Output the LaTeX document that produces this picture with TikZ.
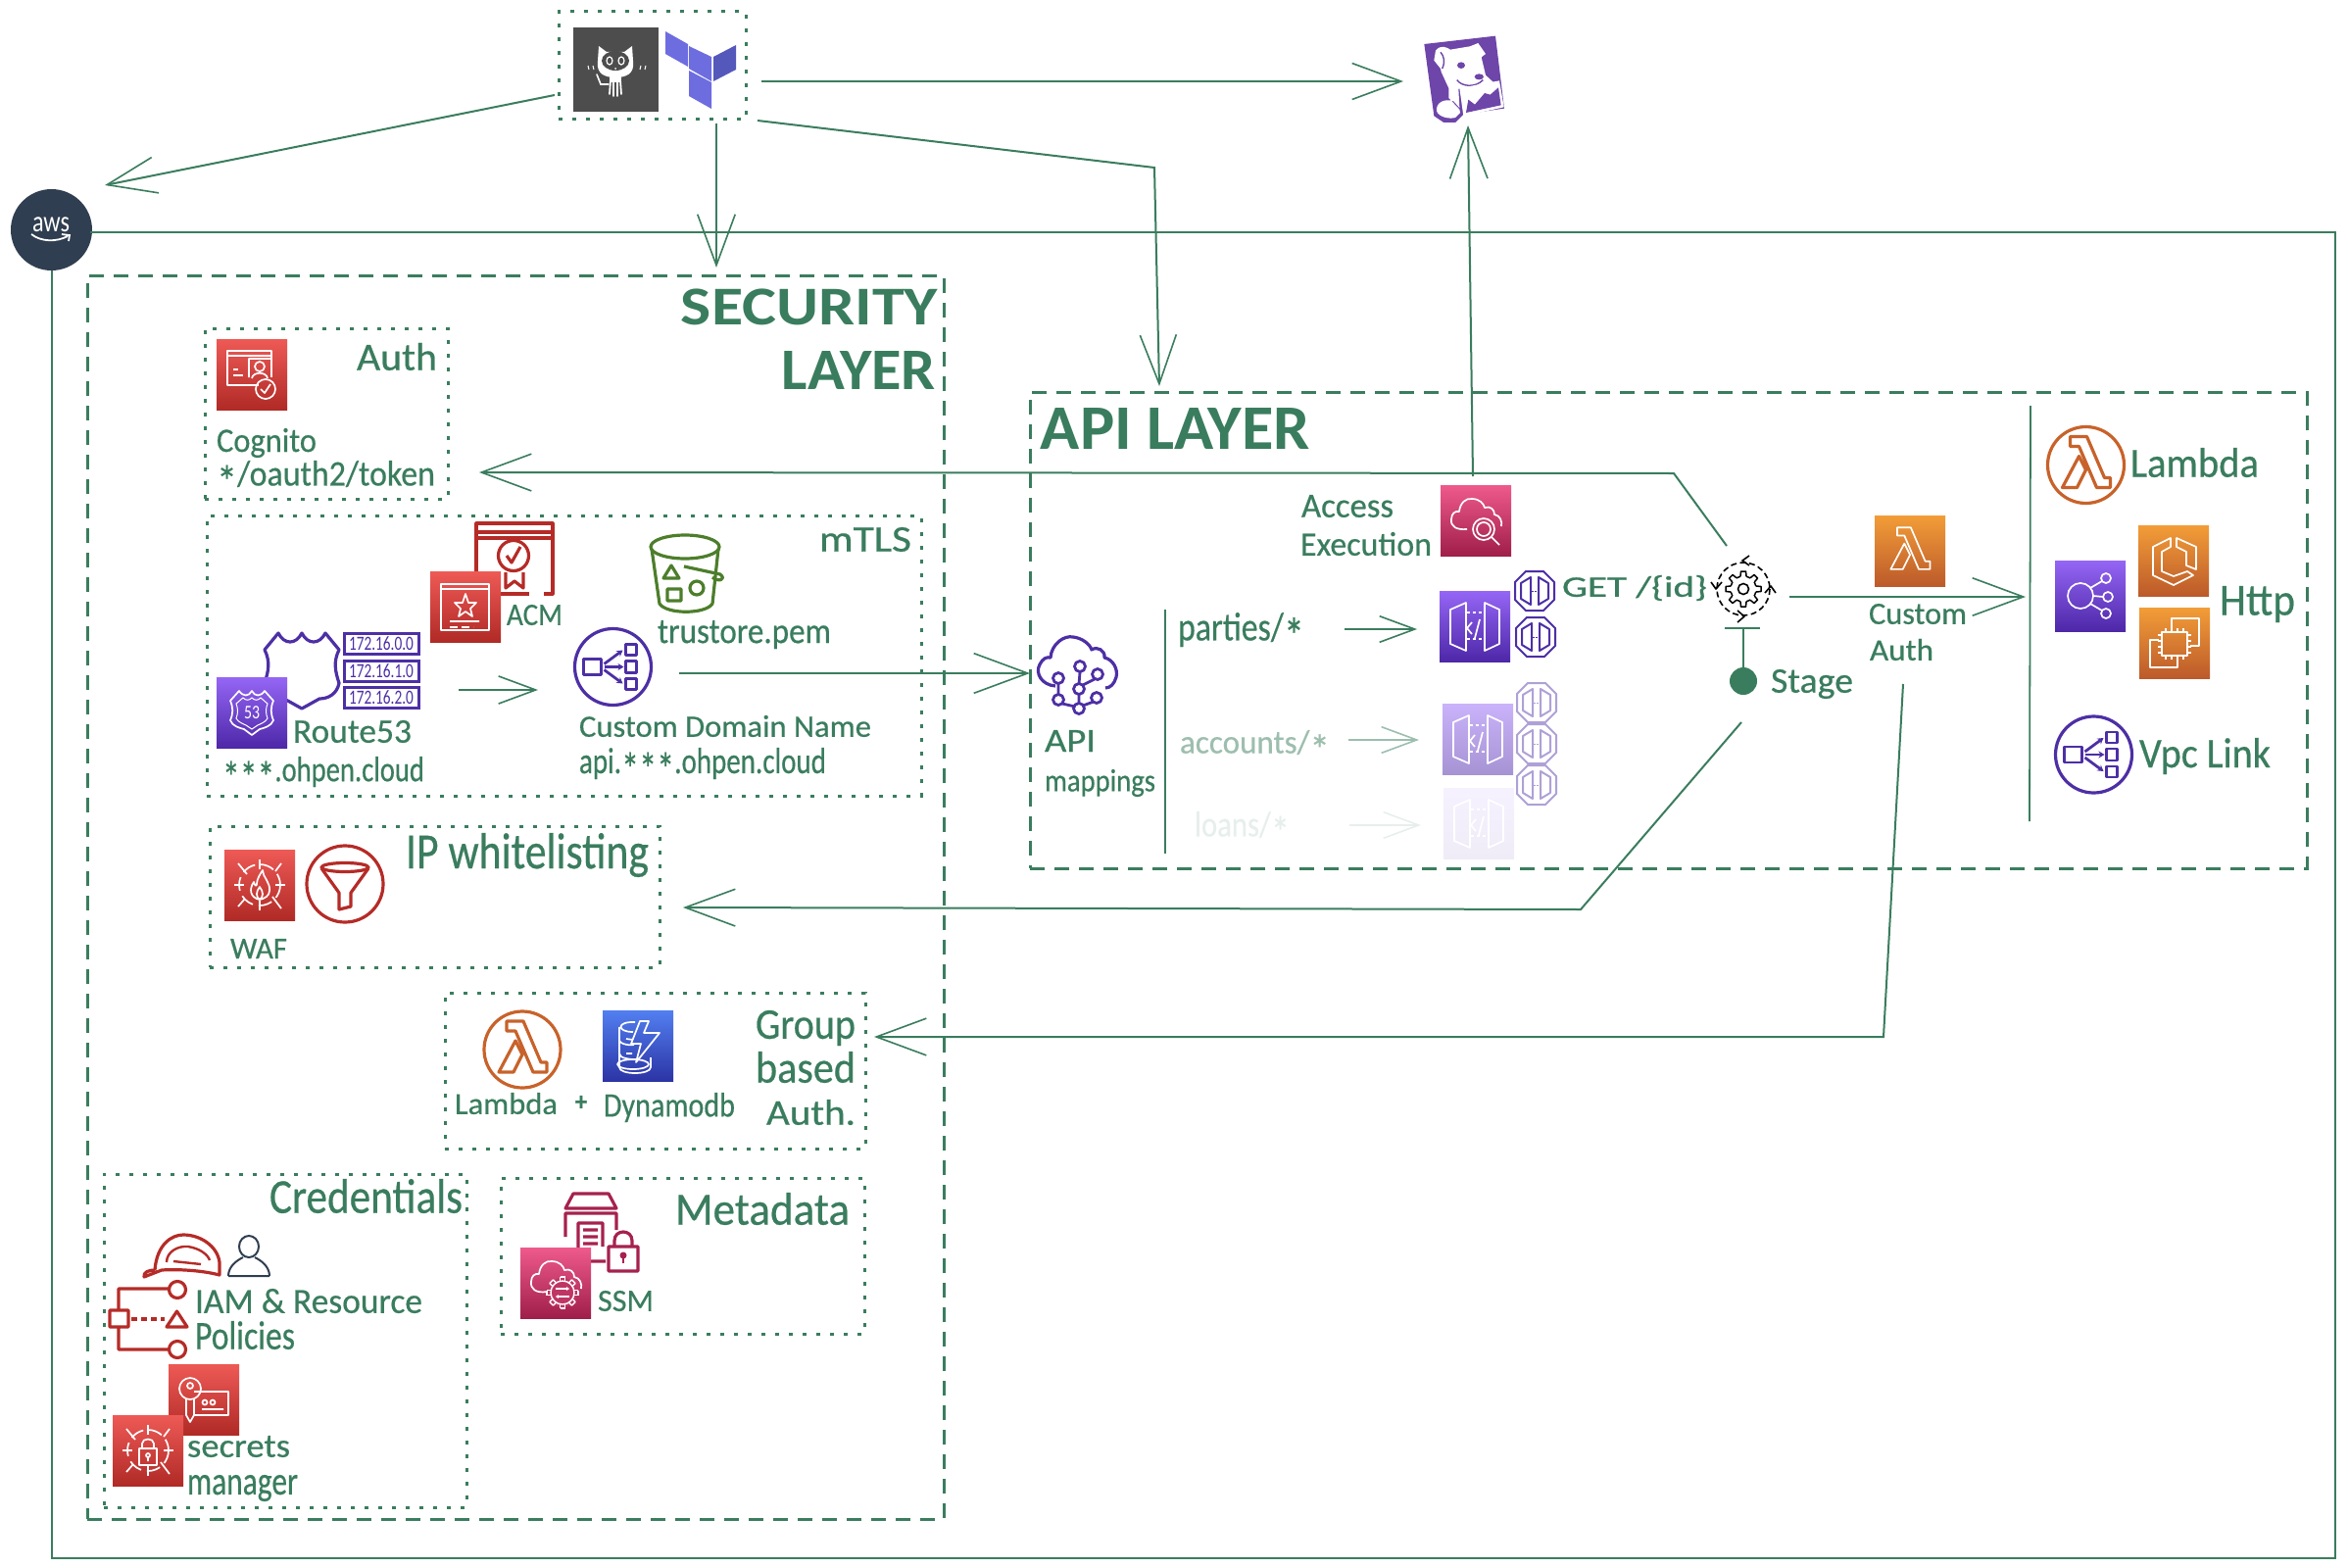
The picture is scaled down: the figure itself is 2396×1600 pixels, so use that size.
\documentclass[tikz,border=0pt]{standalone}
\usepackage{fontspec}
\usepackage{graphicx}
\setmainfont{Carlito}
\newfontfamily\handfont{Carlito}[FakeBold=0.5]
\newcommand{\astr}{\smash{\raisebox{-0.32em}{\scalebox{1.25}{*}}}}
\usetikzlibrary{arrows.meta}
\definecolor{tgreen}{HTML}{3A7D5E}
\definecolor{icred}{HTML}{B52B27}
\definecolor{redd}{HTML}{B02A26}
\definecolor{redl}{HTML}{EE5A56}
\definecolor{icpur}{HTML}{4D2FA5}
\definecolor{purd}{HTML}{4D27A8}
\definecolor{purl}{HTML}{9566F5}
\definecolor{orad}{HTML}{BC5A2A}
\definecolor{oral}{HTML}{F29D38}
\definecolor{icora}{HTML}{C8622A}
\definecolor{icgrn}{HTML}{4D7E2B}
\definecolor{crid}{HTML}{A01E4A}
\definecolor{cril}{HTML}{EE5A8C}
\definecolor{iccri}{HTML}{A6214F}
\definecolor{blud}{HTML}{2C34A5}
\definecolor{blul}{HTML}{527FF0}
\definecolor{awsnavy}{HTML}{2F3E50}
\definecolor{ghdark}{HTML}{4D4D4D}
\definecolor{tfa}{HTML}{6D6DE0}
\definecolor{tfb}{HTML}{5558BB}
\definecolor{ddog}{HTML}{6E45A8}
\tikzset{
  conn/.style={draw=tgreen,line width=2pt},
  tipped/.style={conn,-{Straight Barb[length=#1,width=0.74*#1,line width=1.6pt]}},
  thinconn/.style={draw=tgreen,line width=1.8pt},
  outerbox/.style={draw=tgreen,line width=3pt,dash pattern=on 15pt off 10pt,inner sep=0pt},
  innerbox/.style={draw=tgreen,line width=3pt,dash pattern=on 4pt off 10pt,inner sep=0pt},
  wl/.style={draw=white,line width=1.7pt,line join=round},
  ol/.style={draw=#1,line width=3.2pt,line join=round},
  sqicon/.style={shade,shading=axis,shading angle=-45,minimum size=72pt,inner sep=0pt},
}
% label fitted to a measured box: [opts]{name}{x0}{y0}{x1}{y1}{text}
\newcommand{\lbl}[7][]{\node[inner sep=0pt,text=tgreen,#1] (#2) at ({(#3+#5)/2},{(#4+#6)/2})
  {\resizebox*{\dimexpr #5pt-#3pt\relax}{\dimexpr #6pt-#4pt\relax}{\fontsize{30}{32}\selectfont\handfont #7}};}
\newcommand{\ttl}[6]{\node[inner sep=0pt,text=tgreen] (#1) at ({(#2+#4)/2},{(#3+#5)/2})
  {\resizebox*{\dimexpr #4pt-#2pt\relax}{\dimexpr #5pt-#3pt\relax}{\fontsize{30}{32}\selectfont\bfseries #6}};}
\newcommand{\bx}[6]{\node[#2,minimum width={(#5-#3)*1pt},minimum height={(#6-#4)*1pt}] (#1) at ({(#3+#5)/2},{(#4+#6)/2}) {};}
\newcommand{\sq}[5]{\node[sqicon,bottom color=#4,top color=#5] (#1) at (#2+36,#3+36) {};}
\newcommand{\lamglyph}[1]{\draw[#1] (-16,-29)--(1,-29)--(19,13)--(25,13)--(25,23)--(11,23)--(-7,-19)--(-16,-19)--cycle
  (-7,-9)--(-24,23)--(-9,23)--(0,5)--cycle;}
\newcommand{\lbglyph}[1]{\draw[ol=#1,line width=2.8pt] (-30,-8) rectangle (-12,8) (13,-23) rectangle (24,-12) (13,-6) rectangle (24,6) (13,12) rectangle (24,23);
  \draw[ol=#1,line width=2.8pt,-{Stealth[length=6pt,width=7pt]}] (-9,-3)--(10,-17);
  \draw[ol=#1,line width=2.8pt,-{Stealth[length=6pt,width=7pt]}] (-9,0)--(11,0);
  \draw[ol=#1,line width=2.8pt,-{Stealth[length=6pt,width=7pt]}] (-9,3)--(10,17);}
\newcommand{\gwglyph}{\draw[wl] (-25,-17)--(-9,-24)--(-9,25)--(-25,18)--cycle (10,-24)--(25,-17)--(25,18)--(10,25)--cycle;
  \draw[wl,dash pattern=on 3pt off 3pt] (-8,-14)--(10,-14) (-8,13)--(10,13);
  \draw[wl] (-3,-4)--(-8,2)--(-3,8) (5,-7)--(0,12);}
\newcommand{\hexglyph}[1]{\draw[draw=#1,line width=2pt,line join=round] (-9,-20)--(9,-20)--(20,-9)--(20,9)--(9,20)--(-9,20)--(-20,9)--(-20,-9)--cycle
  (-14,-8)--(-4,-14)--(-4,14)--(-14,8)--cycle (4,-14)--(14,-8)--(14,8)--(4,14)--cycle;
  \draw[draw=#1,line width=1pt,dash pattern=on 1.5pt off 1.5pt] (-3,0)--(3,0);}
\newcommand{\targetglyph}{\draw[wl] (-22,-22)--(-13,-11) (22,24)--(13,12) (22,-22)--(16,-14) (-22,22)--(-15,14);
  \draw[wl,dash pattern=on 14pt off 6pt] (0,0) circle[radius=21];
  \draw[wl] (0,-26)--(0,-16) (0,26)--(0,16) (-26,0)--(-16,0) (26,0)--(16,0);}
\newcommand{\cloudglyph}[1]{\draw[#1] (-9,9) .. controls (-20,11) and (-26,6) .. (-25,-1) .. controls (-25,-7) and (-21,-10) .. (-17,-9)
  .. controls (-16,-18) and (-10,-23) .. (-4,-22) .. controls (4,-22) and (8,-17) .. (9,-13) .. controls (15,-15) and (19,-11) .. (19,-6) .. controls (25,-5) and (27,1) .. (26,6);}
\begin{document}
\begin{tikzpicture}[x=1pt,y=-1pt]
\useasboundingbox (0,0) rectangle (2396,1600);
% ---------- containers
\bx{topbox}{innerbox}{570}{12}{761}{122}
\bx{secbox}{outerbox}{89}{281}{963}{1550}
\bx{apibox}{outerbox}{1051}{400}{2354}{886}
\bx{authbox}{innerbox}{209}{335}{457}{509}
\bx{mtlsbox}{innerbox}{211}{526}{940}{812}
\bx{wafbox}{innerbox}{214}{843}{673}{987}
\bx{groupbox}{innerbox}{454}{1013}{883}{1172}
\bx{credbox}{innerbox}{106}{1198}{476}{1538}
\bx{metabox}{innerbox}{511}{1202}{882}{1361}
% ---------- aws logo
\node[circle,fill=awsnavy,minimum size=83pt,inner sep=0pt] (aws) at (52.5,234.5) {};
\node[inner sep=0pt,text=white] (awstxt) at (52,229.5) {\resizebox*{38pt}{15pt}{\fontsize{30}{32}\selectfont aws}};
\draw[white,line width=1.8pt] (32,239) .. controls (42,247) and (58,247) .. (69,241) (63,239)--(71,240)--(70,246);
% ---------- connector end points
\coordinate (ghL) at (566,97);   \coordinate (awsTip) at (107,189);
\coordinate (ghD) at (731,126);  \coordinate (secTip) at (731,273);
\coordinate (ghR) at (777,83);   \coordinate (ddTip) at (1432,83);
\coordinate (ghB) at (773,123);  \coordinate (apiC) at (1178,171); \coordinate (apiTip) at (1183,394);
\coordinate (af0) at (92,237);   \coordinate (af1) at (2383,237); \coordinate (af2) at (2383,1590); \coordinate (af3) at (52.5,1590);
\coordinate (ceS) at (1503,486); \coordinate (ceT) at (1498,128);
\coordinate (gA) at (1762,557);  \coordinate (gAc) at (1708,483); \coordinate (authTip) at (489,482);
\coordinate (sB) at (1777,737);  \coordinate (sBc) at (1613,928); \coordinate (wafTip) at (697,926);
\coordinate (caB) at (1942,698); \coordinate (caC) at (1922,1058); \coordinate (grpTip) at (892,1058);
\coordinate (cdR) at (693,687);  \coordinate (mapTip) at (1051,687);
\coordinate (r5R) at (468,704);  \coordinate (cdL) at (549,704);
\coordinate (gR) at (1826,609);  \coordinate (intTip) at (2067,609);
\coordinate (pa) at (1372,642);  \coordinate (paT) at (1446,642);
\coordinate (ac) at (1376,755);  \coordinate (acT) at (1448,755);
\coordinate (lo) at (1377,842);  \coordinate (loT) at (1450,842);
\coordinate (v1a) at (1189,622); \coordinate (v1b) at (1189,871);
\coordinate (v2a) at (2072,414); \coordinate (v2b) at (2071,838);
\coordinate (tL) at (1760,641);  \coordinate (tR) at (1796,641); \coordinate (tM) at (1779,641);
% ---------- connectors
\draw[conn] (af0)--(af1)--(af2)--(af3)--(aws.south);
\draw[tipped=50pt] (ghL)--(awsTip);
\draw[tipped=52pt] (ghD)--(secTip);
\draw[tipped=50pt] (ghR)--(ddTip);
\draw[tipped=50pt] (ghB)--(apiC)--(apiTip);
\draw[tipped=52pt] (ceS)--(ceT);
\draw[tipped=51pt] (gA)--(gAc)--(authTip);
\draw[tipped=51pt] (sB)--(sBc)--(wafTip);
\draw[tipped=51pt] (caB)--(caC)--(grpTip);
\draw[tipped=55pt] (cdR)--(mapTip);
\draw[tipped=38pt] (r5R)--(cdL);
\draw[tipped=52pt] (gR)--(intTip);
\draw[tipped=36pt] (pa)--(paT);
\draw[tipped=36pt,draw=tgreen!50!white] (ac)--(acT);
\draw[tipped=36pt,draw=tgreen!12!white] (lo)--(loT);
\draw[thinconn] (v1a)--(v1b);
\draw[thinconn] (v2a)--(v2b);
\draw[thinconn] (tL)--(tR);
% ---------- github + terraform
\node[fill=ghdark,minimum width=87pt,minimum height=86pt,inner sep=0pt] (gh) at (628.5,71) {};
\begin{scope}[shift={(628,70)}]
  \fill[white] (-17,-23)--(-9,-17)--(9,-17)--(17,-23)--(18,-8) .. controls (20,6) and (10,9) .. (0,9) .. controls (-10,9) and (-20,6) .. (-18,-8)--cycle;
  \fill[ghdark] (0,-8) ellipse[x radius=14,y radius=10];
  \draw[white,line width=1.2pt] (-6,-8) ellipse[x radius=3,y radius=4] (6,-8) ellipse[x radius=3,y radius=4];
  \fill[white] (0,0) circle[radius=1];
  \fill[white] (-6,7) rectangle (6,14);
  \draw[white,line width=1.8pt,line cap=round] (-5,12)--(-6,26) (-2,12)--(-2,28) (2,12)--(2,28) (5,12)--(6,26);
  \draw[white,line width=1.6pt,line cap=round] (-19,6)--(-15,16)--(-7,16);
  \draw[white,line width=1pt] (-28,-3)--(-27,1) (-23,-3)--(-22,1) (26,-3)--(25,1) (31,-3)--(30,1);
\end{scope}
\fill[tfa] (679,32)--(702,45)--(702,68)--(679,55)--cycle (703,47)--(726,58)--(726,83)--(703,70)--cycle (703,72)--(726,84)--(726,111)--(703,98)--cycle;
\fill[tfb] (728,58)--(751,46)--(751,71)--(728,83)--cycle;
\node[inner sep=0pt,minimum size=2pt] (tf) at (715,70) {};
% ---------- datadog
\begin{scope}[shift={(1430,20)},x=0.3333pt,y=-0.3333pt]
  \fill[ddog] (70,75)--(288,50)--(315,272)--(190,290)--(165,315)--(130,315)--(100,295)--cycle;
  \fill[white] (105,95) .. controls (120,75) and (140,85) .. (150,92)--(210,82)--(235,72)--(258,105)--(245,115)--(258,170)--(285,195)--(175,212)--(178,270)--(160,250) .. controls (130,240) and (105,255) .. (108,280) .. controls (115,300) and (150,305) .. (165,300)--(180,285)--(178,275)--(145,240)--(145,210)--(122,160)--(120,150)--(100,125)--cycle;
  \fill[ddog] (183,140) ellipse[x radius=12,y radius=10] (238,175) ellipse[x radius=14,y radius=9];
  \draw[ddog,line width=1.4pt] (170,185) .. controls (185,205) and (225,210) .. (250,185) (120,100) .. controls (130,110) and (135,130) .. (125,150);
  \fill[white] (178,210)--(300,187)--(314,268)--(190,295)--cycle;
  \fill[ddog] (198,285)--(305,262)--(297,208)--(272,230)--(255,225)--(225,260)--(205,245)--cycle;
\end{scope}
\node[inner sep=0pt,minimum size=2pt] (dd) at (1495,80) {};
% ---------- cognito
\sq{cognito}{221}{346}{redd}{redl}
\begin{scope}[shift={(257,382)}]
  \draw[wl] (7,11)--(-25,11)--(-25,-24)--(20,-24)--(20,3) (-25,-19)--(20,-19) (-19,-5)--(-14,-5) (-19,1)--(-9,1);
  \draw[wl] (-3,3)--(-3,-16)--(20,-16) (8,-8) circle[radius=5] (0,4) .. controls (1,-3) and (15,-3) .. (16,4);
  \draw[wl] (14,15) circle[radius=10] (9,15)--(13,19)--(19,10);
\end{scope}
% ---------- ACM
\draw[ol=icred] (486,583)--(486,534)--(564,534)--(564,606)--(555,606) (540,606)--(511,606) (486,543)--(564,543) (486,549)--(564,549);
\draw[ol=icred] (524,567) circle[radius=15.5] (516,584)--(516,600)--(525,593)--(534,600)--(534,584) (517,567)--(522,574)--(531,558);
\sq{acm}{439}{583}{redd}{redl}
\begin{scope}[shift={(475,619)}]
  \draw[wl] (-25,-23) rectangle (24,24) (-25,-18)--(24,-18);
  \draw[wl] (0,-13)--(3,-4)--(11,-4)--(5,2)--(7,10)--(0,5)--(-7,10)--(-5,2)--(-11,-4)--(-3,-4)--cycle (-16,15)--(14,15);
  \draw[wl,dash pattern=on 8pt off 4pt] (-16,21)--(8,21);
\end{scope}
% ---------- S3
\draw[ol=icgrn] (699,558) ellipse[x radius=35,y radius=12];
\draw[ol=icgrn] (665,560)--(673,616) .. controls (680,627) and (720,627) .. (727,616)--(733,560);
\draw[ol=icgrn] (685,577)--(693,590)--(677,590)--cycle (681,601) rectangle (695,613) (711,600) circle[radius=7];
\draw[ol=icgrn] (698,578)--(735,586) .. controls (742,592) and (732,594) .. (727,589);
% ---------- route53
\draw[ol=icpur] (284,646) .. controls (290,658) and (302,658) .. (308,646) .. controls (314,658) and (326,658) .. (332,646)--(346,663) .. controls (340,675) and (342,685) .. (346,697) .. controls (344,708) and (335,713) .. (326,713)--(308,723)--(290,713) .. controls (281,713) and (272,708) .. (270,697) .. controls (274,685) and (276,675) .. (270,663)--cycle;
\foreach \yy/\tt/\nn in {646/172.16.0.0/ipa,673.5/172.16.1.0/ipb,701/172.16.2.0/ipc}{
  \node[draw=icpur,line width=3pt,minimum width=76pt,minimum height=21pt,inner sep=0pt] (\nn) at (389,\yy+11) {};
  \node[inner sep=0pt,text=icpur] (\nn t) at (389,\yy+11) {\resizebox*{66pt}{14pt}{\fontsize{30}{32}\selectfont \tt}};
}
\sq{r53}{221}{691}{purd}{purl}
\begin{scope}[shift={(257,727)}]
  \draw[wl] (-13,-22) .. controls (-9,-16) and (-3,-16) .. (0,-22) .. controls (3,-16) and (9,-16) .. (13,-22)--(22,-12) .. controls (19,-5) and (19,1) .. (22,8) .. controls (20,14) and (12,16) .. (8,17)--(0,23)--(-8,17) .. controls (-12,16) and (-20,14) .. (-22,8) .. controls (-19,1) and (-19,-5) .. (-22,-12)--cycle;
  \draw[white,line width=1pt] (-9,-15) .. controls (-6,-12) and (-3,-12) .. (0,-15) .. controls (3,-12) and (6,-12) .. (9,-15)--(16,-9) .. controls (14,-4) and (14,1) .. (16,6) .. controls (14,10) and (8,12) .. (6,13)--(0,17)--(-6,13) .. controls (-8,12) and (-14,10) .. (-16,6) .. controls (-14,1) and (-14,-4) .. (-16,-9)--cycle;
  \node[inner sep=0pt,text=white] (r53num) at (0,0) {\resizebox*{16pt}{13pt}{\fontsize{30}{32}\selectfont 53}};
\end{scope}
% ---------- custom domain name
\node[circle,draw=icpur,line width=3.2pt,minimum size=78pt,inner sep=0pt] (cdn) at (625.5,680.5) {};
\begin{scope}[shift={(625.5,680.5)}] \lbglyph{icpur} \end{scope}
% ---------- WAF
\sq{waf}{229}{867}{redd}{redl}
\begin{scope}[shift={(265,903)}]
  \targetglyph
  \draw[wl] (0,15) .. controls (-10,13) and (-11,4) .. (-6,-3) .. controls (-5,1) and (-3,2) .. (-3,-1) .. controls (-3,-6) and (1,-12) .. (3,-15) .. controls (3,-8) and (11,-3) .. (10,6) .. controls (10,11) and (5,14) .. (0,15) .. controls (-4,12) and (-4,7) .. (0,2) .. controls (4,7) and (4,12) .. (0,15);
\end{scope}
\node[circle,draw=icred,line width=3.2pt,minimum size=78pt,inner sep=0pt] (filter) at (352,902) {};
\begin{scope}[shift={(352,902)}]
  \draw[ol=icred] (0,-17) ellipse[x radius=24,y radius=4.5];
  \draw[ol=icred] (-24,-16)--(-6,9)--(-6,26)--(6,23)--(6,9)--(24,-16);
\end{scope}
% ---------- group auth
\node[circle,draw=icora,line width=3.2pt,minimum size=78pt,inner sep=0pt] (lamg) at (533,1071) {};
\begin{scope}[shift={(533,1071)}] \lamglyph{ol=icora} \end{scope}
\sq{dyn}{615}{1031}{blud}{blul}
\begin{scope}[shift={(651,1067)}]
  \draw[wl] (-3,-24) .. controls (-22,-25) and (-22,-14) .. (-5,-14) (-19,-19)--(-19,-6) .. controls (-19,-1) and (-6,0) .. (-4,-1) (-19,-6)--(-19,8) .. controls (-19,13) and (-8,14) .. (-4,14) (-19,8)--(-19,22) .. controls (-19,30) and (13,30) .. (13,22)--(13,12);
  \draw[wl] (-12,-7)--(-5,-6) (-12,8)--(-6,8) (-5,19) ellipse[x radius=16,y radius=5];
  \draw[wl] (2,-25)--(11,-25)--(6,-13)--(22,-13)--(-2,17)--(3,-2)--(-7,-2)--cycle;
\end{scope}
% ---------- credentials
\draw[ol=icred] (158,1296) .. controls (160,1270) and (175,1260) .. (187,1260) .. controls (205,1260) and (222,1272) .. (224,1288)--(224,1301) .. controls (205,1296) and (180,1295) .. (165,1296)--(147,1303) .. controls (146,1298) and (152,1296) .. (158,1296);
\draw[ol=icred,line width=2.4pt] (170,1288) .. controls (170,1277) and (182,1271) .. (192,1272) .. controls (204,1274) and (212,1280) .. (214,1286) (177,1287)--(205,1290);
\draw[draw=awsnavy,line width=2pt] (254,1272) ellipse[x radius=10,y radius=11] (233,1302) .. controls (233,1292) and (242,1286) .. (248,1283) (275,1302) .. controls (275,1292) and (266,1286) .. (260,1283) (233,1302)--(275,1302);
\draw[ol=icred] (173,1315)--(121,1315)--(121,1335) (181,1316) circle[radius=8.5] (112,1337) rectangle (131,1354) (121,1354)--(121,1377)--(173,1377) (181,1377) circle[radius=8.5] (170,1354)--(191,1354)--(180.5,1338)--cycle;
\draw[ol=icred,dash pattern=on 6pt off 4pt] (134,1346)--(168,1346);
\sq{keyic}{172}{1392}{redd}{redl}
\begin{scope}[shift={(208,1428)}]
  \draw[wl] (-14,-11) circle[radius=11] (-14,-14) circle[radius=3] (-18,0)--(-18,16)--(-14,23)--(-10,16)--(-10,0) (-10,-8)--(25,-8)--(25,16)--(-10,16);
  \draw[wl] (1,3) circle[radius=2.5] (9,3) circle[radius=2.5] (-2,10)--(20,10);
\end{scope}
\sq{secret}{115}{1444}{redd}{redl}
\begin{scope}[shift={(151,1480)}]
  \targetglyph
  \draw[wl] (-9,-2) rectangle (9,15) (-6,-2)--(-6,-7) .. controls (-6,-13) and (6,-13) .. (6,-7)--(6,-2) (0,5) circle[radius=2] (0,7)--(0,11);
\end{scope}
% ---------- SSM
\draw[ol=iccri] (585,1218)--(621,1218)--(629,1233)--(577,1233)--cycle (577,1262)--(577,1238)--(629,1238)--(629,1255) (590,1280)--(590,1248)--(615,1248)--(615,1272) (595,1255)--(610,1255) (595,1262)--(610,1262) (595,1269)--(610,1269) (603,1287)--(618,1287);
\draw[ol=iccri] (621,1272) rectangle (651,1297) (627,1272)--(627,1266) .. controls (627,1254) and (645,1254) .. (645,1266)--(645,1272);
\draw[ol=iccri,line width=2.6pt] (636,1280)--(636,1289);
\fill[iccri] (636,1281) circle[radius=3.5];
\sq{ssm}{531}{1273}{crid}{cril}
\begin{scope}[shift={(567,1309)}]
  \cloudglyph{wl}
  \fill[crid!60!cril] (7,10) circle[radius=15];
  \foreach \a in {0,45,...,315}{\draw[wl,line width=1.4pt,shift={(7,10)},rotate=\a] (-2.5,-16)--(-2.5,-12) (2.5,-16)--(2.5,-12) (-2.5,-16)--(2.5,-16);}
  \draw[wl,line width=1.4pt] (7,10) circle[radius=12];
  \draw[wl,line width=1.2pt,-{Stealth[length=3pt,width=4pt]}] (0,6)--(14,6);
  \draw[wl,line width=1.2pt,-{Stealth[length=3pt,width=4pt]}] (14,14)--(0,14);
\end{scope}
% ---------- cloudwatch
\sq{cw}{1470}{495}{crid}{cril}
\begin{scope}[shift={(1506,531)}]
  \draw[wl] (-9,9) .. controls (-20,10) and (-26,6) .. (-25,-1) .. controls (-25,-7) and (-21,-10) .. (-17,-9) .. controls (-16,-18) and (-10,-23) .. (-4,-22) .. controls (4,-22) and (8,-17) .. (9,-13) .. controls (15,-15) and (19,-11) .. (19,-6) .. controls (25,-5) and (27,1) .. (26,6);
  \draw[wl] (8,9) circle[radius=11] (8,9) circle[radius=7] (16,17)--(24,25);
\end{scope}
% ---------- api gateways
\sq{gwa}{1469}{603}{purd}{purl}
\begin{scope}[shift={(1505,639)}] \gwglyph \end{scope}
\sq{gwb}{1472}{718}{purd!50!white}{purl!50!white}
\begin{scope}[shift={(1508,754)}] \gwglyph \end{scope}
\sq{gwc}{1473}{804}{purd!9!white}{purl!9!white}
\begin{scope}[shift={(1509,840)}] \gwglyph \end{scope}
\begin{scope}[shift={(1566,603)}] \hexglyph{icpur} \end{scope}
\begin{scope}[shift={(1567,650)}] \hexglyph{icpur} \end{scope}
\begin{scope}[shift={(1568,717)}] \hexglyph{icpur!45!white} \end{scope}
\begin{scope}[shift={(1568,759)}] \hexglyph{icpur!45!white} \end{scope}
\begin{scope}[shift={(1568,801)}] \hexglyph{icpur!45!white} \end{scope}
% ---------- API mappings icon
\begin{scope}[shift={(1100,690)}]
  \draw[ol=icpur] (-23,10) .. controls (-37,9) and (-44,-3) .. (-39,-12) .. controls (-36,-18) and (-32,-20) .. (-28,-19) .. controls (-27,-33) and (-14,-42) .. (-5,-40) .. controls (4,-39) and (12,-33) .. (14,-27) .. controls (20,-31) and (28,-26) .. (27,-19) .. controls (36,-17) and (41,-7) .. (39,1) .. controls (37,8) and (33,12) .. (28,12);
  \draw[ol=icpur,line width=2.8pt] (2,-10) circle[radius=5.5] (-20,2) circle[radius=5.5] (20,-2) circle[radius=5.5] (1,13) circle[radius=5.5] (19,22) circle[radius=5.5] (-20,24) circle[radius=5.5] (1,33) circle[radius=5.5];
  \draw[ol=icpur,line width=2.8pt] (2,-4)--(1,8) (-20,8)--(-20,18) (17,3)--(5,9) (1,18)--(1,28) (-16,28)--(-3,31) (5,30)--(16,26);
\end{scope}
% ---------- gear
\begin{scope}[shift={(1779,601)}]
  \draw[black,line width=1.6pt,dash pattern=on 6pt off 3.5pt] (0,0) circle[radius=27];
  \draw[black,line width=1.6pt] (0,0) circle[radius=5.5];
  \foreach \a in {0,45,...,315}{\draw[black,line width=1.5pt,line join=round,rotate=\a] (-3,-13)--(-2.5,-18)--(2.5,-18)--(3,-13);}
  \foreach \a in {22.5,67.5,...,337.5}{\draw[black,line width=1.5pt,rotate=\a] (-2.3,-13)--(2.3,-13);}
  \draw[black,line width=1.6pt,line join=round] (6,-34)--(-1,-29)--(6,-24) (-6,22)--(1,28)--(-6,34) (-33,-7)--(-28,0)--(-22,-7) (22,4)--(28,-3)--(33,4);
\end{scope}
\node[inner sep=0pt,minimum size=2pt] (gear) at (1779,601) {};
\node[circle,fill=tgreen,minimum size=28pt,inner sep=0pt] (stagedot) at (1779,695) {};
\draw[thinconn] (tM)--(stagedot);
% ---------- right column
\sq{lamsq}{1913}{526}{orad}{oral}
\begin{scope}[shift={(1949,562)},scale=0.82] \lamglyph{wl} \end{scope}
\node[circle,draw=icora,line width=3.2pt,minimum size=78pt,inner sep=0pt] (lamc) at (2128.5,474.5) {};
\begin{scope}[shift={(2128.5,474.5)}] \lamglyph{ol=icora} \end{scope}
\sq{elb}{2097}{572}{purd}{purl}
\begin{scope}[shift={(2133,608)}]
  \draw[wl] (-10,0) circle[radius=13] (16,-18) circle[radius=5] (18,1) circle[radius=5] (16,18) circle[radius=5] (0,-8)--(12,-15) (3,0)--(13,1) (0,8)--(12,15);
\end{scope}
\sq{ecs}{2182}{536}{orad}{oral}
\begin{scope}[shift={(2218,572)}]
  \draw[wl] (-3,-23)--(-21,-14)--(-21,15)--(0,25)--(20,15)--(14,11)--(0,16)--(-12,11)--(-12,-9)--(-3,-14)--cycle (3,-23)--(23,-14)--(23,9)--(13,5)--(13,-9)--(3,-14)--cycle;
\end{scope}
\sq{ec}{2183}{620}{orad}{oral}
\begin{scope}[shift={(2219,656)}]
  \draw[wl] (-3,-15)--(-3,-25)--(25,-25)--(25,3)--(16,3) (-16,-3)--(-25,-3)--(-25,25)--(3,25)--(3,16);
  \draw[wl] (-13,-11) rectangle (13,13);
  \foreach \q in {-9,-3,3,9}{\draw[white,line width=1.2pt] (\q,-15)--(\q,-11) (\q,13)--(\q,17) (-17,\q+1)--(-13,\q+1) (13,\q+1)--(17,\q+1);}
\end{scope}
\node[circle,draw=icpur,line width=3.2pt,minimum size=78pt,inner sep=0pt] (vpc) at (2136.5,770) {};
\begin{scope}[shift={(2136.5,770)}] \lbglyph{icpur} \end{scope}
% ---------- labels
\ttl{tsec}{695}{295}{957}{332}{SECURITY}
\ttl{tlay}{798}{358}{955}{397}{LAYER}
\ttl{tapi}{1062}{416}{1337}{458}{API LAYER}
\lbl{lauth}{364}{350}{446}{378}{Auth}
\lbl{lcog}{221}{437}{323}{467}{Cognito}
\lbl{ltok}{221}{470}{444}{497}{\astr/oauth2/token}
\lbl{lacm}{517}{617}{574}{638}{ACM}
\lbl{ltru}{671}{633}{848}{662}{trustore.pem}
\lbl{lmtls}{836}{538}{930}{563}{mTLS}
\lbl{lr53}{299}{735}{420}{758}{Route53}
\lbl{lohp}{227}{772}{433}{803}{\astr\astr\astr.ohpen.cloud}
\lbl{lcdn}{591}{730}{889}{752}{Custom Domain Name}
\lbl{lapi}{591}{763}{843}{795}{api.\astr\astr\astr.ohpen.cloud}
\lbl{lipw}{414}{850}{662}{895}{IP whitelisting}
\lbl{lwaf}{235}{958}{293}{978}{WAF}
\lbl{lgl}{464}{1115}{569}{1137}{Lambda}
\lbl{lgp}{587}{1118}{599}{1133}{\bfseries +}
\lbl{lgd}{616}{1115}{750}{1145}{Dynamodb}
\lbl{lgroup}{771}{1031}{873}{1067}{Group}
\lbl{lbased}{771}{1073}{873}{1105}{based}
\lbl{lgauth}{782}{1122}{873}{1148}{Auth.}
\lbl{lcred}{275}{1203}{472}{1238}{Credentials}
\lbl{lmeta}{689}{1217}{867}{1250}{Metadata}
\lbl{lssm}{610}{1317}{667}{1338}{SSM}
\lbl{liam}{199}{1315}{431}{1340}{IAM \& Resource}
\lbl{lpol}{199}{1348}{301}{1377}{Policies}
\lbl{lsec}{191}{1465}{296}{1487}{secrets}
\lbl{lman}{191}{1505}{304}{1532}{manager}
\lbl{lacc}{1328}{505}{1422}{528}{Access}
\lbl{lexe}{1327}{543}{1461}{567}{Execution}
\lbl{lget}{1594}{587}{1742}{613}{GET /\{id\}}
\lbl{lpar}{1202}{625}{1331}{660}{parties/\astr}
\lbl[text=tgreen!50!white]{lacct}{1204}{745}{1357}{770}{accounts/\astr}
\lbl[text=tgreen!12!white]{lloan}{1219}{828}{1316}{855}{loans/\astr}
\lbl{lam1}{1066}{745}{1118}{767}{API}
\lbl{lam2}{1066}{785}{1179}{813}{mappings}
\lbl{lstg}{1807}{683}{1891}{713}{Stage}
\lbl{lcus}{1907}{616}{2007}{637}{Custom}
\lbl{lcau}{1908}{652}{1973}{674}{Auth}
\lbl{llam}{2174}{457}{2305}{487}{Lambda}
\lbl{lhttp}{2265}{598}{2342}{635}{Http}
\lbl{lvpc}{2183}{753}{2317}{790}{Vpc Link}
\end{tikzpicture}
\end{document}
